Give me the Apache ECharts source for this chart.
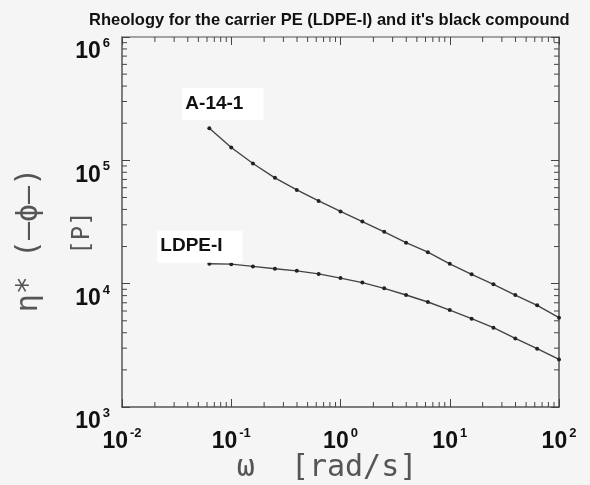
<!DOCTYPE html>
<html>
<head>
<meta charset="utf-8">
<script src="https://cdn.jsdelivr.net/npm/echarts@6/dist/echarts.min.js"></script>
<style>
    html, body { margin: 0; padding: 0; background: #f5f5f5; }
    #chart { width: 590px; height: 485px; }
</style>
</head>
<body>
<div id="chart"></div>
<script>
// 频率 ω [rad/s]
var omega = [0.063, 0.1, 0.158, 0.251, 0.398, 0.631, 1, 1.585, 2.512, 3.981, 6.31, 10, 15.85, 25.12, 39.81, 63.1, 100];
// 复数黏度 η* [P]
var etaA141 = [182000, 127000, 94300, 72100, 57600, 46900, 38500, 31900, 26300, 21500, 18000, 14500, 11900, 9880, 8090, 6670, 5300];
var etaLdpe = [14500, 14400, 13800, 13200, 12700, 12000, 11100, 10200, 9170, 8090, 7100, 6110, 5200, 4400, 3600, 2970, 2430];
var seriesNames = ['A-14-1', 'LDPE-I'];

// 对数轴次刻度 (2..9 × 10^n)
var minorSteps = [2, 3, 4, 5, 6, 7, 8, 9];
var xDecades = [0.01, 0.1, 1, 10];
var yDecades = [1000, 10000, 100000];

var FONT_BOLD = '"Liberation Sans", Arial, sans-serif';
var FONT_THIN = '"DejaVu Sans Mono", monospace';

// 10^n 形式的刻度标签
function powLabel (v) {
    var n = Math.round(Math.log(v) / Math.LN10);
    return '{b|10}{s|' + n + '}';
}

var powRich = {
    b: { fontFamily: FONT_BOLD, fontWeight: 'bold', fontSize: 23, lineHeight: 23, color: '#111', verticalAlign: 'bottom' },
    s: { fontFamily: FONT_BOLD, fontWeight: 'bold', fontSize: 13, lineHeight: 13, color: '#111', padding: [0, 0, 17, 2] }
};

// 曲线数据，首点带系列名标签
function buildData (ys, label) {
    return omega.map(function (x, i) {
        var item = { value: [x, ys[i]] };
        if (i === 0) item.label = label;
        return item;
    });
}

function tagLabel (pos) {
    return {
        show: true,
        position: pos,
        formatter: '{a}',
        fontFamily: FONT_BOLD,
        fontWeight: 'bold',
        fontSize: 19,
        color: '#111',
        backgroundColor: '#fff',
        padding: [6, 20, 7, 3]
    };
}

// 次刻度数据: [x, y, 方向]
function buildMinorTicks () {
    var ticks = [];
    xDecades.forEach(function (d) {
        minorSteps.forEach(function (m) { ticks.push([d * m, 1000, 0]); });
    });
    yDecades.forEach(function (d) {
        minorSteps.forEach(function (m) { ticks.push([0.01, d * m, 1]); });
    });
    return ticks;
}

function renderMinorTick (params, api) {
    var cs = params.coordSys;
    var p = api.coord([api.value(0), api.value(1)]);
    var len = 5;
    var style = { stroke: '#444', lineWidth: 1 };
    if (api.value(2) === 0) {
        return {
            type: 'group',
            children: [
                { type: 'line', shape: { x1: p[0], y1: cs.y + cs.height, x2: p[0], y2: cs.y + cs.height - len }, style: style },
                { type: 'line', shape: { x1: p[0], y1: cs.y, x2: p[0], y2: cs.y + len }, style: style }
            ]
        };
    }
    return {
        type: 'group',
        children: [
            { type: 'line', shape: { x1: cs.x, y1: p[1], x2: cs.x + len, y2: p[1] }, style: style },
            { type: 'line', shape: { x1: cs.x + cs.width, y1: p[1], x2: cs.x + cs.width - len, y2: p[1] }, style: style }
        ]
    };
}

function logAxis (pos, min, max, showLabel) {
    return {
        type: 'log',
        logBase: 10,
        position: pos,
        min: min,
        max: max,
        axisLine: { show: true, lineStyle: { color: '#555', width: 1.5 } },
        axisTick: { show: true, inside: true, length: 8, lineStyle: { color: '#444' } },
        splitLine: { show: false },
        axisLabel: showLabel ? { formatter: powLabel, rich: powRich } : { show: false }
    };
}

var chart = echarts.init(document.getElementById('chart'));

var xBottom = logAxis('bottom', 0.01, 100, true);
xBottom.axisLabel.margin = 23;
var xTop = logAxis('top', 0.01, 100, false);
xTop.axisLine.lineStyle.color = '#888';
var yLeft = logAxis('left', 1000, 1000000, true);
yLeft.axisLabel.margin = 12;
yLeft.axisLabel.padding = [30, 0, 0, 0];
var yRight = logAxis('right', 1000, 1000000, false);

var option = {
    backgroundColor: '#f5f5f5',
    animation: false,
    title: {
        text: 'Rheology for the carrier PE (LDPE-I) and it\'s black compound',
        left: 84,
        top: 7,
        textStyle: { fontFamily: FONT_BOLD, fontWeight: 'bold', fontSize: 16.5, color: '#111' }
    },
    grid: { left: 122, right: 31, top: 37, bottom: 78 },
    xAxis: [xBottom, xTop],
    yAxis: [yLeft, yRight],
    graphic: [
        {
            type: 'text', x: 29, y: 240, rotation: Math.PI / 2,
            style: { text: 'η* (—ϕ—)', fontFamily: FONT_THIN, fontSize: 30, fill: '#555', align: 'center', verticalAlign: 'middle' }
        },
        {
            type: 'text', x: 83, y: 233, rotation: Math.PI / 2,
            style: { text: '[P]', fontFamily: FONT_THIN, fontSize: 24, fill: '#555', align: 'center', verticalAlign: 'middle' }
        },
        {
            type: 'text', x: 327, y: 468,
            style: { text: 'ω  [rad/s]', fontFamily: FONT_THIN, fontSize: 30, fill: '#555', align: 'center', verticalAlign: 'middle' }
        }
    ],
    series: [
        {
            name: seriesNames[0],
            type: 'line',
            symbol: 'circle',
            symbolSize: 4,
            lineStyle: { color: '#444', width: 1.4 },
            itemStyle: { color: '#222' },
            data: buildData(etaA141, tagLabel([-25, -38]))
        },
        {
            name: seriesNames[1],
            type: 'line',
            symbol: 'circle',
            symbolSize: 4,
            lineStyle: { color: '#444', width: 1.4 },
            itemStyle: { color: '#222' },
            data: buildData(etaLdpe, tagLabel([-50, -31]))
        },
        {
            name: 'minorTicks',
            type: 'custom',
            silent: true,
            clip: false,
            dimensions: ['x', 'y', 'dir'],
            encode: { x: 0, y: 1 },
            renderItem: renderMinorTick,
            data: buildMinorTicks()
        }
    ]
};

chart.setOption(option);
</script>
</body>
</html>
